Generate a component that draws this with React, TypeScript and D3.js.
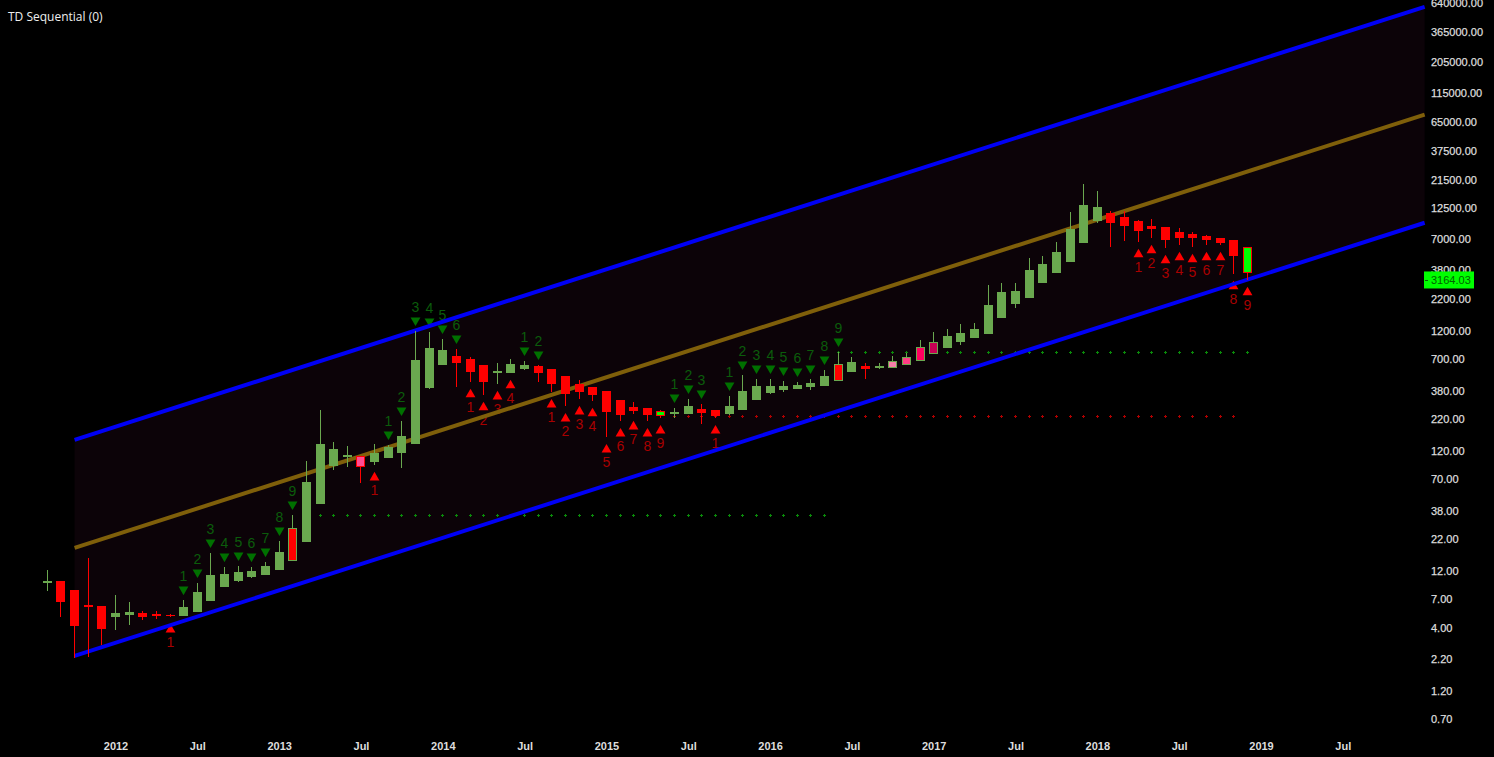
/**
 * App.tsx – monthly log-scale candles with TD Sequential counts and a channel
 */
import React, { useEffect, useRef } from "react";
import * as d3 from "d3";

const WIDTH = 1494;
const HEIGHT = 757;

// month index: 0 = Jan 2012, first bar = Aug 2011
const FIRST_MONTH = -5;

const opens = [9.51, 9.87, 8.31, 6.24, 6.12, 4.95, 5.15, 5.35, 5.25, 5.15, 5.05, 5.45, 6.73, 8.8, 9.87, 10.66, 11.09, 12.19, 14.48, 20.87, 43.24, 89.6, 106.4, 108.5, 96.8, 104.4, 115, 136.7, 400, 622, 739, 697, 622, 534, 534, 576, 610, 576, 504, 432, 408, 378, 318, 278, 273, 257, 243, 243, 267, 262, 243, 262, 318, 364, 385, 392, 408, 415, 457, 544, 610, 587, 587, 622, 671, 768, 861, 967, 1043, 1125, 1531, 2004, 2248, 2997, 3631, 4483, 6456, 9838, 11477, 10624, 9838, 8944, 8770, 7971, 7670, 7383, 7103, 6836, 5976];
const highs = [12.19, 9.87, 8.31, 15.35, 6.12, 7.55, 6.6, 5.55, 5.55, 5.25, 6.86, 9.51, 16.9, 12.91, 13.17, 12.91, 14.21, 21.27, 35, 98.6, 262.3, 142, 131.5, 108.5, 136.7, 134.1, 212.4, 1193, 1171, 1023, 845, 725, 622, 646, 697, 671, 622, 576, 504, 466, 408, 378, 318, 306, 273, 262, 273, 324, 294, 262, 343, 513, 475, 475, 457, 449, 475, 565, 798, 725, 646, 646, 739, 783, 1004, 1171, 1240, 1365, 1392, 2885, 2997, 2997, 4840, 5030, 6580, 11697, 20010, 17490, 11918, 11918, 10032, 10223, 8770, 8604, 7971, 7526, 7103, 6836, 5976];
const lows = [8.15, 4.95, 2.26, 2.3, 2.9, 3.86, 4.25, 4.68, 4.76, 4.95, 5.05, 5.45, 6.73, 8.8, 9.69, 10.46, 11.09, 12.19, 14.48, 20.87, 43.24, 83, 87.9, 64.7, 91.4, 104.4, 86.2, 136.7, 392, 622, 408, 449, 350, 432, 534, 565, 449, 370, 283, 324, 312, 156, 212, 243, 212, 225, 225, 243, 200.6, 225, 238, 262, 318, 357, 370, 392, 385, 415, 457, 544, 475, 576, 587, 622, 671, 768, 861, 913, 1043, 1125, 1531, 1856, 2248, 2997, 3631, 4483, 6456, 9473, 5976, 6704, 6580, 7103, 5863, 6213, 5976, 6213, 6213, 3561, 3174];
const closes = [9.87, 6.6, 4.17, 6, 3.93, 5.35, 5.45, 4.95, 5.05, 5.05, 6, 8, 11.09, 11.3, 11.74, 11.96, 13.17, 17.22, 27.28, 65.95, 136.7, 124.1, 110.7, 87.9, 115, 129, 159.4, 684, 861, 829, 646, 544, 449, 554, 634, 622, 534, 432, 357, 370, 350, 252, 238, 257, 238, 234, 252, 283, 248, 234, 283, 378, 415, 415, 415, 424, 440, 504, 634, 659, 576, 610, 671, 725, 878, 967, 1084, 1149, 1240, 1966, 2522, 2570, 3845, 4314, 5431, 8440, 13381, 12870, 9473, 8944, 8121, 8440, 6836, 7103, 7103, 6836, 6456, 5030, 3631];

// painted bars (price flip colours of the study)
const paintedMonths = [13, 18, 40, 53, 57, 58, 59, 60, 83];
const paintedFills = ["#ff0000", "#ff4d94", "#00ff00", "#ff0000", "#f77fa9", "#ff3d85", "#ff0060", "#c80055", "#00ff00"];

// TD counts
const upMonths = [5, 6, 7, 8, 9, 10, 11, 12, 13, 20, 21, 22, 23, 24, 25, 30, 31, 41, 42, 43, 45, 46, 47, 48, 49, 50, 51, 52, 53];
const upCounts = [1, 2, 3, 4, 5, 6, 7, 8, 9, 1, 2, 3, 4, 5, 6, 1, 2, 1, 2, 3, 1, 2, 3, 4, 5, 6, 7, 8, 9];
const downMonths = [4, 19, 26, 27, 28, 29, 32, 33, 34, 35, 36, 37, 38, 39, 40, 44, 75, 76, 77, 78, 79, 80, 81, 82, 83];
const downCounts = [1, 1, 1, 2, 3, 4, 1, 2, 3, 4, 5, 6, 7, 8, 9, 1, 1, 2, 3, 4, 5, 6, 7, 8, 9];

// dotted support / resistance levels: [price, from month, to month]
const resistanceA = [34.6, 14, 52];
const resistanceB = [785, 53, 83];
const supportA = [230, 41, 82];

// channel end points
const channelMonths = [-3, 96];
const channelUpper = [147.6, 594965];
const channelMiddle = [18.6, 75300];
const channelLower = [2.345, 9473];

const yTickValues = [640000, 365000, 205000, 115000, 65000, 37500, 21500, 12500, 7000, 3800, 2200, 1200, 700, 380, 220, 120, 70, 38, 22, 12, 7, 4, 2.2, 1.2, 0.7];
const xTickMonths = [0, 6, 12, 18, 24, 30, 36, 42, 48, 54, 60, 66, 72, 78, 84, 90];
const xTickLabels = ["2012", "Jul", "2013", "Jul", "2014", "Jul", "2015", "Jul", "2016", "Jul", "2017", "Jul", "2018", "Jul", "2019", "Jul"];
const lastPrice = 3164.03;

const GREEN = "#6aa84f";
const RED = "#ff0000";
const FONT = "'Liberation Sans', Arial, sans-serif";

const App: React.FC = () => {
    const svgRef = useRef<SVGSVGElement | null>(null);

    useEffect(() => {
        if (!svgRef.current) return;
        const svg = d3.select(svgRef.current);
        svg.selectAll("*").remove();

        const x = d3.scaleLinear().domain([0, 84]).range([115.5, 1261]);
        const y = d3.scaleLog().domain([0.7, 640000]).range([719, 3]);

        // ── Channel band ───────────────────────────────────────────────────
        const channelIdx = d3.range(channelMonths.length);
        svg.append("path")
            .datum(channelIdx)
            .attr("fill", "#0c0308")
            .attr("d", d3.area<number>()
                .x((i) => x(channelMonths[i]))
                .y0((i) => y(channelLower[i]))
                .y1((i) => y(channelUpper[i])));

        // ── Dotted levels ──────────────────────────────────────────────────
        const cross = d3.symbol().type(d3.symbolCross).size(5)();
        const drawLevel = (level: number[], color: string) => {
            svg.append("g").selectAll("path")
                .data(d3.range(level[1], level[2] + 1))
                .enter()
                .append("path")
                .attr("d", cross)
                .attr("fill", color)
                .attr("shape-rendering", "crispEdges")
                .attr("transform", (m) => `translate(${Math.floor(x(m)) + 0.5},${Math.floor(y(level[0])) + 0.5})`);
        };
        drawLevel(resistanceA, "#0a8a0a");
        drawLevel(resistanceB, "#0a8a0a");
        drawLevel(supportA, "#b00000");

        // ── TD counts ──────────────────────────────────────────────────────
        const triangle = d3.symbol().type(d3.symbolTriangle).size(42)();
        const upG = svg.append("g");
        upMonths.forEach((m, i) => {
            const cx = Math.floor(x(m)) + 0.5;
            const top = y(highs[m - FIRST_MONTH]);
            upG.append("path")
                .attr("d", triangle)
                .attr("fill", "#007000")
                .attr("transform", `translate(${cx},${top - 10.5}) rotate(180)`);
            upG.append("text")
                .attr("x", cx)
                .attr("y", top - 23.5)
                .attr("dy", "0.36em")
                .attr("text-anchor", "middle")
                .attr("font-family", FONT)
                .attr("font-size", 14)
                .attr("fill", "#0b5c0b")
                .text(upCounts[i]);
        });
        const downG = svg.append("g");
        downMonths.forEach((m, i) => {
            const cx = Math.floor(x(m)) + 0.5;
            const bottom = y(lows[m - FIRST_MONTH]);
            downG.append("path")
                .attr("d", triangle)
                .attr("fill", RED)
                .attr("transform", `translate(${cx},${bottom + 12.7})`);
            downG.append("text")
                .attr("x", cx)
                .attr("y", bottom + 25)
                .attr("dy", "0.36em")
                .attr("text-anchor", "middle")
                .attr("font-family", FONT)
                .attr("font-size", 14)
                .attr("fill", "#a80000")
                .text(downCounts[i]);
        });

        // ── Channel lines ──────────────────────────────────────────────────
        const drawChannel = (values: number[], color: string) => {
            svg.append("path")
                .datum(channelIdx)
                .attr("fill", "none")
                .attr("stroke", color)
                .attr("stroke-width", 4)
                .attr("d", d3.line<number>()
                    .x((i) => x(channelMonths[i]))
                    .y((i) => y(values[i])));
        };
        drawChannel(channelMiddle, "#7f5f0a");
        drawChannel(channelUpper, "#0000f5");
        drawChannel(channelLower, "#0000f5");

        // ── Candles ────────────────────────────────────────────────────────
        const candles = svg.append("g").attr("shape-rendering", "crispEdges");
        opens.forEach((open, i) => {
            const month = FIRST_MONTH + i;
            const close = closes[i];
            const color = close >= open ? GREEN : RED;
            const cx = Math.floor(x(month));
            const yHigh = Math.round(y(highs[i]));
            const yLow = Math.round(y(lows[i]));
            const yTop = Math.round(y(Math.max(open, close)));
            const yBot = Math.round(y(Math.min(open, close)));
            candles.append("rect")
                .attr("x", cx).attr("y", yHigh)
                .attr("width", 1).attr("height", Math.max(1, yLow - yHigh))
                .attr("fill", color);
            const painted = paintedMonths.indexOf(month);
            if (painted >= 0) {
                candles.append("rect")
                    .attr("x", cx - 3.5).attr("y", yTop + 0.5)
                    .attr("width", 8).attr("height", Math.max(1, yBot - yTop - 1))
                    .attr("fill", paintedFills[painted])
                    .attr("stroke", color);
            } else {
                candles.append("rect")
                    .attr("x", cx - 4).attr("y", yTop)
                    .attr("width", 9).attr("height", Math.max(1, yBot - yTop))
                    .attr("fill", color);
            }
        });

        // ── Axes ───────────────────────────────────────────────────────────
        const yAxis = svg.append("g")
            .attr("transform", "translate(1431,0)")
            .call(d3.axisRight(y)
                .tickValues(yTickValues)
                .tickSize(0)
                .tickPadding(0)
                .tickFormat((d) => (d as number).toFixed(2)));
        yAxis.select(".domain").remove();
        yAxis.selectAll("text")
            .attr("font-family", FONT)
            .attr("font-size", 11)
            .attr("fill", "#dddddd")
            .attr("stroke", "#dddddd")
            .attr("stroke-width", 0.25);

        const xAxis = svg.append("g")
            .attr("transform", "translate(0,742)")
            .call(d3.axisBottom(x)
                .tickValues(xTickMonths)
                .tickSize(0)
                .tickPadding(0)
                .tickFormat((_, i) => xTickLabels[i]));
        xAxis.select(".domain").remove();
        xAxis.selectAll("text")
            .attr("font-family", FONT)
            .attr("font-size", 11)
            .attr("font-weight", 700)
            .attr("fill", "#dddddd");

        // ── Last price tag ─────────────────────────────────────────────────
        const yLast = y(lastPrice);
        svg.append("rect")
            .attr("x", 1424).attr("y", yLast - 8.5)
            .attr("width", 50).attr("height", 17)
            .attr("fill", "#00ff00");
        svg.append("rect")
            .attr("x", 1425).attr("y", Math.round(yLast))
            .attr("width", 3).attr("height", 1)
            .attr("shape-rendering", "crispEdges")
            .attr("fill", "#006400");
        svg.append("text")
            .attr("x", 1431).attr("y", yLast)
            .attr("dy", "0.36em")
            .attr("font-family", FONT)
            .attr("font-size", 11)
            .attr("fill", "#006400")
            .text(lastPrice.toFixed(2));

        svg.append("text")
            .attr("x", 8).attr("y", 21)
            .attr("font-family", "'Open Sans', sans-serif")
            .attr("font-size", 12)
            .attr("fill", "#eeeeee")
            .text("TD Sequential (0)");
    }, []);

    return (
        <svg
            ref={svgRef}
            width={WIDTH}
            height={HEIGHT}
            viewBox={`0 0 ${WIDTH} ${HEIGHT}`}
            style={{ position: "absolute", left: 0, top: 0, display: "block", background: "#000000" }}
        />
    );
};

export default App;
